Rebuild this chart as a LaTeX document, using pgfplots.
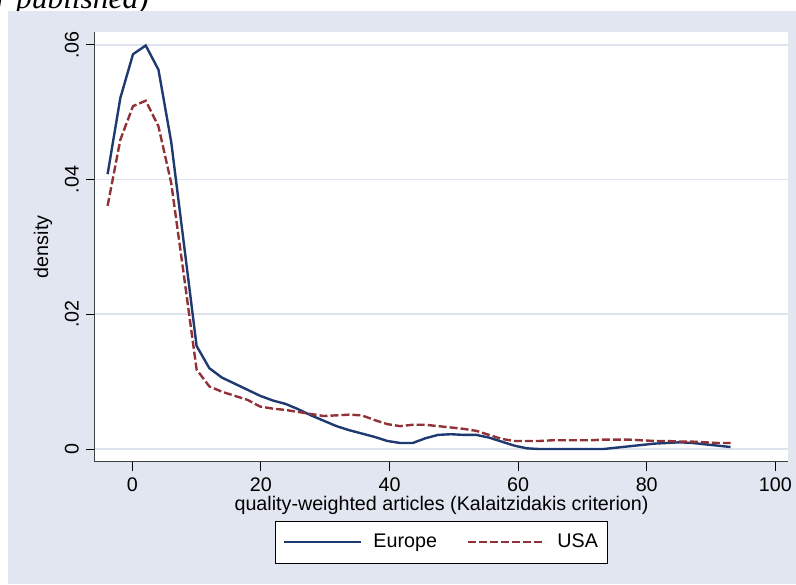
\documentclass[border=0pt]{standalone}
\usepackage{fontspec}
\setmainfont{Liberation Sans}
\newfontfamily\titleserif{Liberation Serif}
\usepackage{pgfplots}
\pgfplotsset{compat=1.18}
\definecolor{bgblue}{RGB}{225,230,240}
\definecolor{gridblue}{RGB}{221,227,239}
\definecolor{euronavy}{RGB}{30,58,112}
\definecolor{usamaroon}{RGB}{144,50,56}

\pgfplotstableread{
x      europe  usa
-3.84  0.0408  0.0361
-1.86  0.0521  0.0459
0.11   0.0586  0.0509
2.09   0.0599  0.0517
4.07   0.0563  0.0479
6.05   0.0456  0.0395
8.02   0.0305  0.0258
10.00  0.0153  0.0118
11.98  0.0120  0.0093
13.95  0.0106  0.0085
15.93  0.0097  0.0079
17.91  0.0088  0.0073
19.88  0.0079  0.0063
21.86  0.0072  0.0060
23.84  0.0067  0.0058
25.82  0.0059  0.0055
27.79  0.0050  0.0052
29.77  0.0042  0.0049
31.75  0.0034  0.0050
33.72  0.0028  0.0051
35.70  0.0023  0.0050
37.68  0.0018  0.0043
39.65  0.0012  0.0037
41.63  0.0009  0.0034
43.61  0.0009  0.0036
45.59  0.0016  0.0036
47.56  0.0021  0.0034
49.54  0.0022  0.0032
51.52  0.0021  0.0030
53.49  0.0021  0.0027
55.47  0.0017  0.0021
57.45  0.0011  0.0015
59.42  0.0005  0.0012
61.40  0.0001  0.0012
63.38  0.0000  0.0012
65.36  0.0000  0.0013
67.33  0.0000  0.0013
69.31  0.0000  0.0013
71.29  0.0000  0.0013
73.26  0.0000  0.0014
75.24  0.0002  0.0014
77.22  0.0004  0.0014
79.19  0.0006  0.0013
81.17  0.0008  0.0012
83.15  0.0009  0.0012
85.13  0.0010  0.0011
87.10  0.0009  0.0011
89.08  0.0007  0.0010
91.06  0.0005  0.0009
93.03  0.0003  0.0009
}\densities

\begin{document}
\begin{tikzpicture}
\useasboundingbox (0,0) rectangle (398pt,292pt);
\clip (0,0) rectangle (398pt,292pt);
% cropped title from the page above
\node[anchor=base west, inner sep=0pt, font=\titleserif\itshape\fontsize{15.7}{18}\selectfont]
  at (-2.15pt,287.5pt) {r published)};
\fill[bgblue] (4pt,0pt) rectangle (398pt,286.5pt);
\begin{axis}[
    at={(47.5pt,61.15pt)}, anchor=south west,
    scale only axis,
    width=346.5pt, height=214.85pt,
    axis background/.style={fill=white},
    xmin=-5.8, xmax=101.97,
    ymin=-0.00188, ymax=0.0619,
    axis x line*=bottom, axis y line*=left,
    axis line style={-, line width=0.5pt, black!75},
    tick align=outside,
    major tick length=4.5pt,
    tick style={line width=0.5pt, black},
    xtick={0,20,40,60,80,100},
    xticklabels={0,20,40,60,80,100},
    ytick={0,0.02,0.04,0.06},
    yticklabels={0,.02,.04,.06},
    scaled y ticks=false,
    yticklabel style={rotate=90, anchor=south},
    ymajorgrids,
    grid style={gridblue, line width=0.85pt},
    font=\fontsize{9.85}{11.5}\selectfont,
    xlabel={quality-weighted articles (Kalaitzidakis criterion)},
    ylabel={density},
    xlabel style={at={(axis description cs:0.5,0)}, yshift=-21.7pt, anchor=center},
    ylabel style={at={(axis description cs:-0.075,0.5)}, anchor=center},
    legend columns=2,
    legend style={at={(0.5,-0.137)}, anchor=north, draw=black, fill=white,
        line width=0.5pt, inner xsep=4pt, inner ysep=5.9pt, column sep=0pt,
        nodes={inner sep=0pt, text height=7.2pt, text depth=2pt}},
    legend image code/.code={\draw[#1] (0pt,0pt) -- (38.5pt,0pt);},
]
\addplot[euronavy, line width=1.2pt] table[x=x, y=europe] {\densities};
\addlegendentry{\hspace{5.5pt}Europe\rule{15pt}{0pt}}
\addplot[usamaroon, line width=1.2pt, dash pattern=on 4pt off 1.5pt] table[x=x, y=usa] {\densities};
\addlegendentry{\hspace{5.5pt}USA\rule{1pt}{0pt}}
\end{axis}
\end{tikzpicture}
\end{document}
